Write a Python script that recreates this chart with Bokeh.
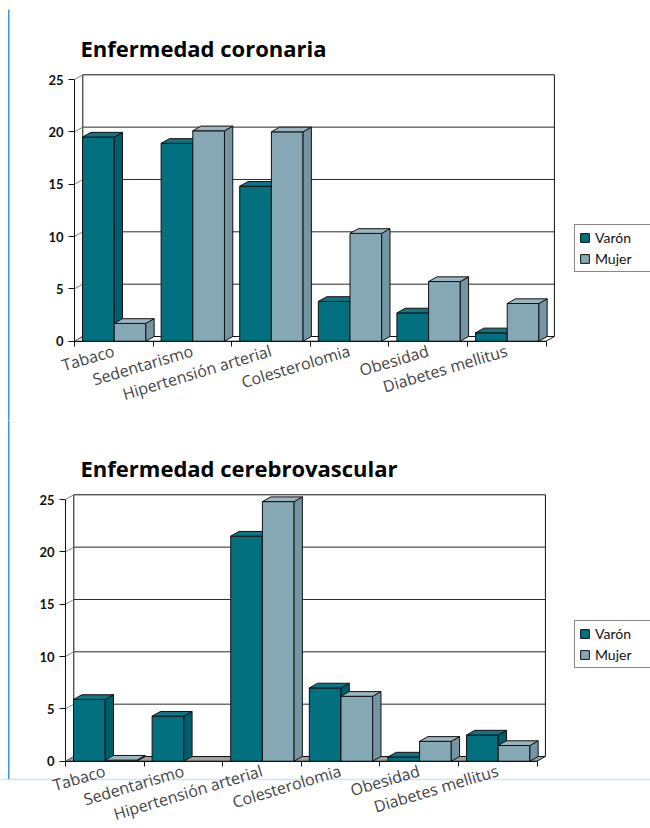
from bokeh.plotting import figure
from bokeh.models import Range1d, LinearAxis, FixedTicker, Legend, LegendItem, BoxAnnotation, Span, Label
from bokeh.layouts import column
from bokeh.embed import file_html
from bokeh.resources import INLINE

# ---------------- data ----------------
categories = ["Tabaco", "Sedentarismo", "Hipertensión arterial", "Colesterolomia", "Obesidad", "Diabetes mellitus"]
series = ["Varón", "Mujer"]
coronaria_varon = [19.5, 18.9, 14.8, 3.8, 2.7, 0.8]
coronaria_mujer = [1.7, 20.1, 20.0, 10.3, 5.7, 3.6]
cerebro_varon = [5.9, 4.3, 21.5, 7.0, 0.4, 2.5]
cerebro_mujer = [0.1, 0.0, 24.8, 6.2, 1.9, 1.5]
y_ticks = [0, 5, 10, 15, 20, 25]
titles = ["Enfermedad coronaria", "Enfermedad cerebrovascular"]

# ---------------- style ----------------
W = 650
PX_PER_CAT = 78.6
PX_PER_UNIT = 10.468
ZERO_PX = 340.7
DEPTH_PX = (8.3, 4.7)
BAR_OFF = 0.102
BAR_W = 0.403
FONT = "Lato"
TITLE_FONT = "Open Sans"
CAT_FONT = "Open Sans"

COLORS = {
    "Varón": ("#02707F", "#005D6B", "#0B7687"),   # front, side, top
    "Mujer": ("#86A8B5", "#7495A2", "#9AB6C1"),
}


def make_chart(title, varon, mujer, H, axis_px, legend_bottom, floor_fill, blue_top_px, blue_bottom_px, hline_px):
    X = lambda px: (px - axis_px) / PX_PER_CAT
    Y = lambda px: (ZERO_PX - px) / PX_PER_UNIT
    p = figure(width=W, height=H, output_backend="svg", toolbar_location=None,
               x_range=Range1d(X(0), X(W)), y_range=Range1d(Y(H), Y(0)),
               x_axis_location=None, y_axis_location=None, min_border=0,
               outline_line_color=None, background_fill_color="white", border_fill_color="white")
    p.xgrid.visible = False
    p.ygrid.visible = False

    n = len(categories)
    top = max(y_ticks)
    ddx = DEPTH_PX[0] / PX_PER_CAT
    ddy = DEPTH_PX[1] / PX_PER_UNIT

    # floor
    p.patch([0, n, n + ddx, ddx], [0, 0, ddy, ddy], fill_color=floor_fill, line_color="#111111", line_width=1)
    # back wall grid lines
    p.multi_line([[ddx, n + ddx] for t in y_ticks[1:-1]], [[t + ddy, t + ddy] for t in y_ticks[1:-1]],
                 line_color="#2a2a2a", line_width=1)
    # back wall frame
    p.line([ddx, ddx, n + ddx, n + ddx], [ddy, top + ddy, top + ddy, ddy], line_color="#111111", line_width=1)
    # left side wall diagonals
    p.multi_line([[0, ddx] for t in y_ticks], [[t, t + ddy] for t in y_ticks], line_color="#808080", line_width=1)

    # bars
    legend_renderers = {}
    for k, (name, vals) in enumerate(zip(series, [varon, mujer])):
        front, side, topc = COLORS[name]
        idx = [i for i, v in enumerate(vals) if v > 0]
        x0 = [i + BAR_OFF + k * BAR_W for i in idx]
        x1 = [a + BAR_W for a in x0]
        v = [vals[i] for i in idx]
        r = p.quad(left=x0, right=x1, bottom=[0] * len(idx), top=v,
                   fill_color=front, line_color="#111111", line_width=1)
        p.patches([[b, b + ddx, b + ddx, b] for b in x1],
                  [[0, ddy, h + ddy, h] for h in v],
                  fill_color=side, line_color="#111111", line_width=1)
        p.patches([[a, b, b + ddx, a + ddx] for a, b in zip(x0, x1)],
                  [[h, h, h + ddy, h + ddy] for h in v],
                  fill_color=topc, line_color="#111111", line_width=1)
        legend_renderers[name] = r

    # y axis
    yax = LinearAxis(fixed_location=0, ticker=FixedTicker(ticks=y_ticks), bounds=(0, top),
                     axis_line_color="#111111", major_tick_line_color="#111111",
                     major_tick_out=6, major_tick_in=0, minor_tick_line_color=None,
                     major_label_standoff=5, major_label_text_font=FONT,
                     major_label_text_font_style="bold", major_label_text_font_size="13px",
                     major_label_text_color="#111111")
    p.add_layout(yax, "left")
    # x axis: category boundaries as minor ticks, category names at centers
    centers = [i + 0.5 for i in range(n)]
    xax = LinearAxis(fixed_location=0,
                     ticker=FixedTicker(ticks=centers, minor_ticks=list(range(n + 1))),
                     bounds=(0, n),
                     major_label_overrides={c: name for c, name in zip(centers, categories)},
                     major_label_orientation=0.29,
                     axis_line_color="#111111", major_tick_line_color=None,
                     minor_tick_line_color="#111111", minor_tick_out=5, minor_tick_in=0,
                     major_label_standoff=3, major_label_text_font=CAT_FONT,
                     major_label_text_font_size="16px", major_label_text_color="#444444")
    p.add_layout(xax, "below")

    # title
    p.add_layout(Label(x=80, x_units="screen", y=Y(47.5), text=title, text_font=TITLE_FONT,
                       text_font_style="bold", text_font_size="22px", text_color="#000000",
                       text_baseline="alphabetic"))

    # legend
    legend = Legend(items=[LegendItem(label=s, renderers=[legend_renderers[s]]) for s in series],
                    location=(574, legend_bottom), orientation="vertical",
                    border_line_color="#111111", border_line_width=1, padding=4, spacing=4,
                    glyph_width=11, glyph_height=11, label_standoff=5, label_height=15,
                    label_width=70, margin=0, label_text_font=FONT, label_text_font_size="14px",
                    label_text_color="#111111", background_fill_alpha=1)
    p.add_layout(legend)

    # page decoration lines
    p.add_layout(BoxAnnotation(left=7.5, right=9, left_units="screen", right_units="screen",
                               fill_color="#3a96d8", fill_alpha=1, line_color=None,
                               top=Y(blue_top_px), bottom=Y(blue_bottom_px)))
    if hline_px is not None:
        p.add_layout(Span(location=Y(hline_px), dimension="width", line_color="#cfe3f1",
                          line_width=1.5, level="underlay"))
    return p


p1 = make_chart(titles[0], coronaria_varon, coronaria_mujer, 420, 74, 420 - 272, "#ffffff", 9, 425, None)
p2 = make_chart(titles[1], cerebro_varon, cerebro_mujer, 408, 65, 408 - 248, "#a0a0a0", -5, 358.5, 359)

p = column(p1, p2, spacing=0)
open("out.html", "w").write(file_html(p, INLINE))
